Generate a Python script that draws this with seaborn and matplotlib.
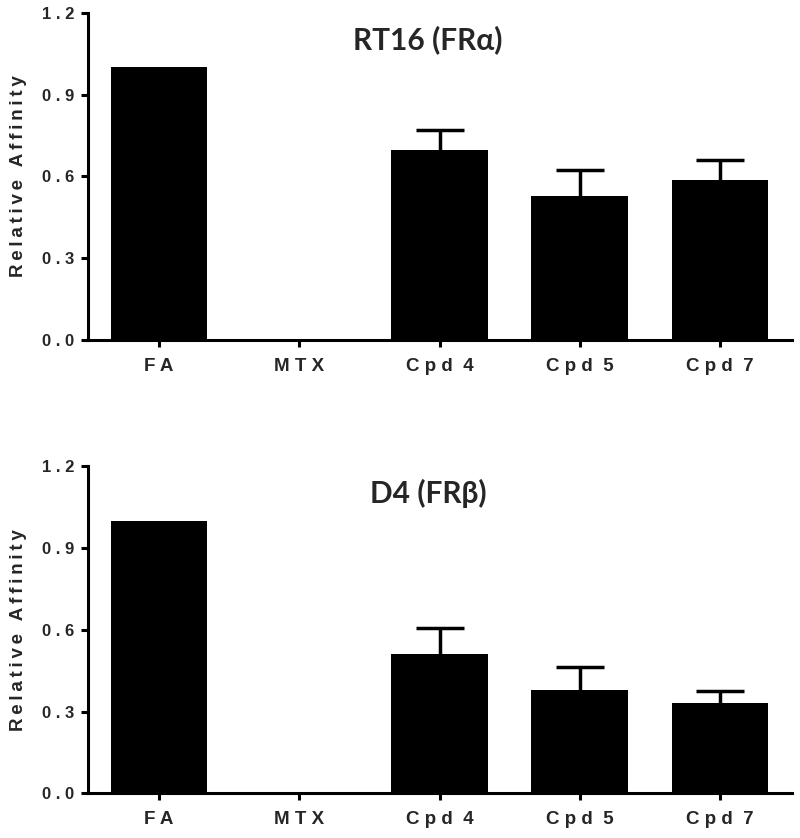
import matplotlib
matplotlib.use("Agg")
import matplotlib.pyplot as plt
import seaborn as sns
import numpy as np

categories = ["FA", "MTX", "Cpd 4", "Cpd 5", "Cpd 7"]
tick_labels = ["F A", "M T X", "C p d  4", "C p d  5", "C p d  7"]
rt16_values = [1.0, 0.0, 0.696, 0.527, 0.586]
rt16_err = [0.0, 0.0, 0.074, 0.097, 0.075]
d4_values = [1.0, 0.0, 0.513, 0.380, 0.332]
d4_err = [0.0, 0.0, 0.095, 0.085, 0.045]
titles = ["RT16 (FRα)", "D4 (FRβ)"]
y_ticks = [0.0, 0.3, 0.6, 0.9, 1.2]
y_tick_labels = ["0 . 0", "0 . 3", "0 . 6", "0 . 9", "1 . 2"]
y_label = "\u2009".join("Relative") + "\u2009 \u2009" + "\u2009".join("Affinity")

sns.set_theme(style="ticks")
plt.rcParams["font.family"] = ["Liberation Sans", "DejaVu Sans"]

fig = plt.figure(figsize=(8.0, 8.38), dpi=100)
ax_top = fig.add_axes([0.11, 0.5943, 0.88, 0.3902])
ax_bot = fig.add_axes([0.11, 0.0533, 0.88, 0.3903])

for ax, vals, errs, title in [(ax_top, rt16_values, rt16_err, titles[0]),
                              (ax_bot, d4_values, d4_err, titles[1])]:
    sns.barplot(x=categories, y=vals, color="black", width=0.69,
                errorbar=None, saturation=1, ax=ax, linewidth=0)
    xs = np.arange(len(categories))
    mask = np.array(errs) > 0
    v = np.array(vals)[mask]
    e = np.array(errs)[mask]
    _, caps, _ = ax.errorbar(xs[mask], v, yerr=[np.zeros(mask.sum()), e],
                             fmt="none", ecolor="black", elinewidth=2.5,
                             capsize=17, capthick=2.5)
    for c in caps:
        if np.allclose(c.get_ydata(), v):
            c.set_visible(False)
    ax.set_ylim(0, 1.2)
    ax.set_xlim(-0.507, 4.514)
    ax.set_yticks(y_ticks)
    ax.set_yticklabels(y_tick_labels, fontsize=12, fontweight="bold")
    ax.set_xticks(xs)
    ax.set_xticklabels(tick_labels, fontsize=13.5, fontweight="bold")
    ax.set_ylabel(y_label, fontsize=13.5, fontweight="bold")
    ax.yaxis.set_label_coords(-0.087, 0.5)
    ax.set_xlabel("")
    for s in ["top", "right"]:
        ax.spines[s].set_visible(False)
    for s in ["left", "bottom"]:
        ax.spines[s].set_linewidth(2.2)
        ax.spines[s].set_color("black")
    ax.tick_params(axis="both", width=2.2, length=5, color="black")
    ax.tick_params(axis="y", pad=5)
    ax.tick_params(axis="x", pad=8)
    ax.set_facecolor("white")
    ax.text(0.483, 0.917, title, transform=ax.transAxes, ha="center",
            va="center", fontsize=21.5, fontweight="bold",
            family=["Lato", "Open Sans", "DejaVu Sans"])

fig.savefig("out.png", dpi=100, facecolor="white")
